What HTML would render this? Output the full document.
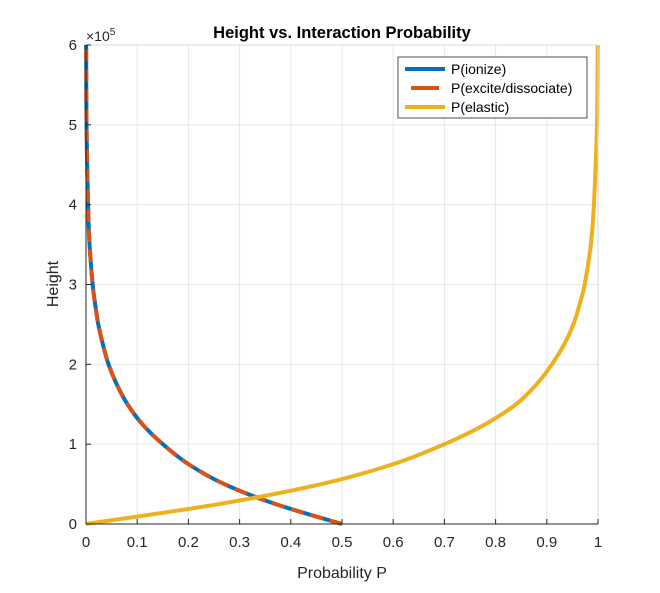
<!DOCTYPE html>
<html><head><meta charset="utf-8"><style>
body{margin:0;background:#fff;}
svg text{font-family:"Liberation Sans",sans-serif;fill:#262626;}
</style></head><body>
<svg id="chart" width="660" height="588" viewBox="0 0 660 588">
<rect x="0" y="0" width="660" height="588" fill="#fff"/>
<g id="grid"></g>
<g id="series"></g>
<line x1="86" y1="45" x2="598" y2="45" stroke="#d9d9d9" stroke-width="1"/>
<line x1="598" y1="45" x2="598" y2="524" stroke="#d9d9d9" stroke-width="1"/>
<line x1="86" y1="45" x2="86" y2="524" stroke="#262626" stroke-width="1"/>
<line x1="86" y1="524" x2="598" y2="524" stroke="#262626" stroke-width="1"/>
<g id="ticks"></g>
<text x="342" y="38" text-anchor="middle" font-size="16.5" font-weight="bold" style="fill:#000">Height vs. Interaction Probability</text>
<text x="342" y="578" text-anchor="middle" font-size="16">Probability P</text>
<text transform="translate(58,284) rotate(-90)" text-anchor="middle" font-size="16">Height</text>
<text x="86" y="41" font-size="14">×10<tspan dy="-6" font-size="10">5</tspan></text>
<g>
<rect x="398" y="57" width="189" height="61" fill="#fff" stroke="#262626" stroke-width="0.8"/>
<line x1="405" y1="69" x2="445" y2="69" stroke="#0072BD" stroke-width="4"/>
<text x="451" y="74" font-size="14" style="fill:#000">P(ionize)</text>
<line x1="411" y1="88" x2="439" y2="88" stroke="#D95319" stroke-width="4"/>
<text x="451" y="93" font-size="14" style="fill:#000">P(excite/dissociate)</text>
<line x1="405" y1="107" x2="445" y2="107" stroke="#EDB120" stroke-width="4"/>
<text x="451" y="112" font-size="14" style="fill:#000">P(elastic)</text>
</g>
</svg>
<script>
const heights = [0,0.25,0.5,0.75,1,1.25,1.5,1.75,2,2.25,2.5,2.75,3,3.5,4,5,6];
const pIonize = [0.5,0.37,0.27,0.20,0.15,0.11,0.081,0.06,0.044,0.033,0.024,0.018,0.013,0.007,0.004,0.001,0.0003];
const pExcite = [0.5,0.37,0.27,0.20,0.15,0.11,0.081,0.06,0.044,0.033,0.024,0.018,0.013,0.007,0.004,0.001,0.0003];
const pElastic = [0,0.26,0.46,0.60,0.70,0.78,0.84,0.88,0.91,0.934,0.952,0.964,0.974,0.986,0.992,0.998,0.9995];
const xTicks = ["0","0.1","0.2","0.3","0.4","0.5","0.6","0.7","0.8","0.9","1"];
const yTicks = ["0","1","2","3","4","5","6"];
const X0=86,X1=598,Y0=524,Y1=45;
const sx=v=>X0+(X1-X0)*v;
const sy=v=>Y0-(Y0-Y1)*v/6;
const NS="http://www.w3.org/2000/svg";
const grid=document.getElementById('grid'),ticks=document.getElementById('ticks'),series=document.getElementById('series');
function mk(t,a,p){const e=document.createElementNS(NS,t);for(const k in a)e.setAttribute(k,a[k]);p.appendChild(e);return e;}
xTicks.forEach((t,i)=>{const x=sx(+t);
 const g=mk('line',{x1:x,x2:x,y1:Y1,y2:Y0,stroke:'#e6e6e6','stroke-width':1},grid);
 
 
 const tk=mk('line',{x1:x,x2:x,y1:Y0,y2:Y0-5,stroke:'#262626'},ticks);
 
 
 const tx=mk('text',{x:x,y:Y0+23,'text-anchor':'middle','font-size':15},ticks);tx.textContent=t;
 
 
});
yTicks.forEach((t,i)=>{const y=sy(+t);
 const g=mk('line',{x1:X0,x2:X1,y1:y,y2:y,stroke:'#e6e6e6','stroke-width':1},grid);
 
 
 const tk=mk('line',{x1:X0,x2:X0+5,y1:y,y2:y,stroke:'#262626'},ticks);
 
 
 const tx=mk('text',{x:X0-9,y:y+5,'text-anchor':'end','font-size':15},ticks);tx.textContent=t;
 
 
});
function path(vals){
 const pts=vals.map((v,i)=>[sx(v),sy(heights[i])]);
 let d='M'+pts[0][0]+','+pts[0][1];
 for(let i=0;i<pts.length-1;i++){const p0=pts[i-1]||pts[i],p1=pts[i],p2=pts[i+1],p3=pts[i+2]||p2;
  d+=' C'+(p1[0]+(p2[0]-p0[0])/6)+','+(p1[1]+(p2[1]-p0[1])/6)+' '+(p2[0]-(p3[0]-p1[0])/6)+','+(p2[1]-(p3[1]-p1[1])/6)+' '+p2[0]+','+p2[1];}
 return d;}
const l1=mk('path',{d:path(pIonize),fill:'none',stroke:'#0072BD','stroke-width':4},series);


const l2=mk('path',{d:path(pExcite),fill:'none',stroke:'#D95319','stroke-width':4,'stroke-dasharray':'13,7'},series);


const l3=mk('path',{d:path(pElastic),fill:'none',stroke:'#EDB120','stroke-width':4},series);


</script>
</body></html>
